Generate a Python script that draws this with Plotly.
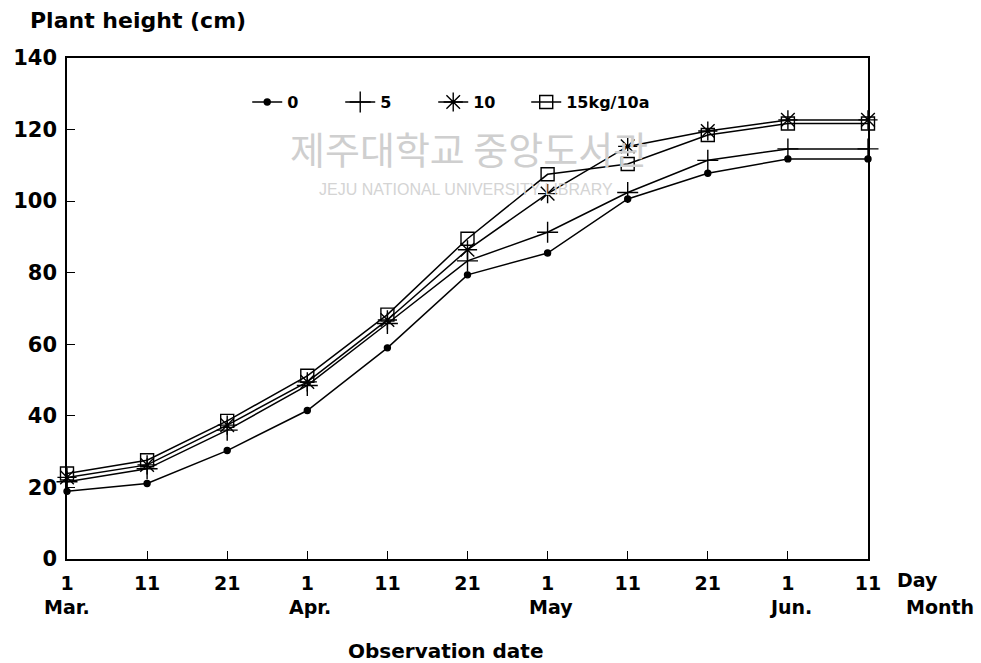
import plotly.graph_objects as go

days = ["1", "11", "21", "1", "11", "21", "1", "11", "21", "1", "11"]
months = ["Mar.", "", "", "Apr.", "", "", "May", "", "", "Jun.", ""]
x_idx = list(range(len(days)))

s0 = [18.9, 21.1, 30.3, 41.5, 59.0, 79.4, 85.5, 100.6, 107.8, 111.8, 111.8]
s5 = [21.6, 25.2, 36.0, 48.5, 65.8, 83.3, 91.3, 102.4, 111.4, 114.6, 114.6]
s10 = [22.8, 26.3, 37.4, 49.5, 66.8, 86.4, 102.1, 115.3, 119.6, 122.7, 122.7]
s15 = [23.9, 27.6, 38.6, 51.2, 68.3, 89.5, 107.5, 110.4, 118.5, 121.7, 121.7]

names = ["0", "5", "10", "15kg/10a"]
series = [s0, s5, s10, s15]
symbols = ["circle", "cross-thin-open", "asterisk-open", "square-open"]
sizes = [6, 15, 16, 13]

fig = go.Figure()
for nm, ys, sym, sz in zip(names, series, symbols, sizes):
    fig.add_trace(go.Scatter(
        x=x_idx, y=ys, name=nm, mode="lines+markers",
        line=dict(color="black", width=1.5),
        marker=dict(symbol=sym, size=sz, color="black",
                    line=dict(color="black", width=1.4)),
        cliponaxis=False,
    ))
# invisible spacer entry so the last legend label is not cut off
fig.add_trace(go.Scatter(x=[None], y=[None], name=" ", mode="lines",
                         line=dict(color="rgba(0,0,0,0)", width=0), hoverinfo="skip"))

tickfont = dict(family="DejaVu Sans", size=19, color="black", weight="bold")

fig.update_layout(
    width=981, height=663,
    margin=dict(l=67, r=113, t=58, b=104),
    paper_bgcolor="white", plot_bgcolor="white",
    showlegend=True,
    legend=dict(orientation="h", x=0.225, xanchor="left", y=0.912, yanchor="middle",
                font=dict(family="DejaVu Sans", size=16, color="black", weight="bold"),
                bgcolor="rgba(0,0,0,0)", itemwidth=30, tracegroupgap=0,
                entrywidth=48),
    xaxis=dict(range=[0, 10], tickvals=x_idx, ticktext=days, tickfont=tickfont,
               showline=True, linecolor="black", linewidth=1.5, mirror=True,
               ticks="inside", ticklen=8, tickcolor="black", tickwidth=1.2,
               showgrid=False, zeroline=False, ticklabelstandoff=6),
    yaxis=dict(range=[0, 140], tickvals=[0, 20, 40, 60, 80, 100, 120, 140],
               tickfont=dict(family="DejaVu Sans", size=21, color="black", weight="bold"),
               showline=True, linecolor="black", linewidth=1.5, mirror=True,
               ticks="inside", ticklen=8, tickcolor="black", tickwidth=1.2,
               showgrid=False, zeroline=False, ticklabelstandoff=4),
)

ann = []
for i, m in enumerate(months):
    if m:
        ann.append(dict(x=i, y=-0.095, xref="x", yref="paper", text=m, showarrow=False,
                        font=tickfont, xanchor="center", yanchor="middle",
                        xshift=3 if i > 0 else 0))
ann += [
    dict(x=895, y=580, xref="paper", yref="paper", text="Day", showarrow=False,
         font=tickfont, xanchor="left", yanchor="middle"),
    dict(x=976, y=607, xref="paper", yref="paper", text="Month", showarrow=False,
         font=tickfont, xanchor="right", yanchor="middle"),
    dict(x=445, y=651, xref="paper", yref="paper", text="Observation date", showarrow=False,
         font=dict(family="DejaVu Sans", size=20, color="black", weight="bold"),
         xanchor="center", yanchor="middle"),
    dict(x=28, y=20, xref="paper", yref="paper", text="Plant height (cm)", showarrow=False,
         font=dict(family="DejaVu Sans", size=22, color="black", weight="bold"),
         xanchor="left", yanchor="middle"),
    dict(x=469, y=147, xref="paper", yref="paper", text="제주대학교 중앙도서관", showarrow=False,
         font=dict(family="Noto Sans CJK KR", size=38, color="#cfcfcf"),
         xanchor="center", yanchor="middle"),
    dict(x=466, y=189, xref="paper", yref="paper", text="JEJU NATIONAL UNIVERSITY LIBRARY",
         showarrow=False, font=dict(family="Liberation Sans", size=16, color="#d4d4d4"),
         xanchor="center", yanchor="middle"),
]
W, H = 981, 663
l, r, t, b = 67, 113, 58, 104
pw, ph = W - l - r, H - t - b
for a in ann:
    if a["xref"] == "paper" and a["x"] > 1.5:
        a["x"] = (a["x"] - l) / pw
        a["y"] = (H - b - a["y"]) / ph
fig.update_layout(annotations=ann)

fig.write_html("out.html")
